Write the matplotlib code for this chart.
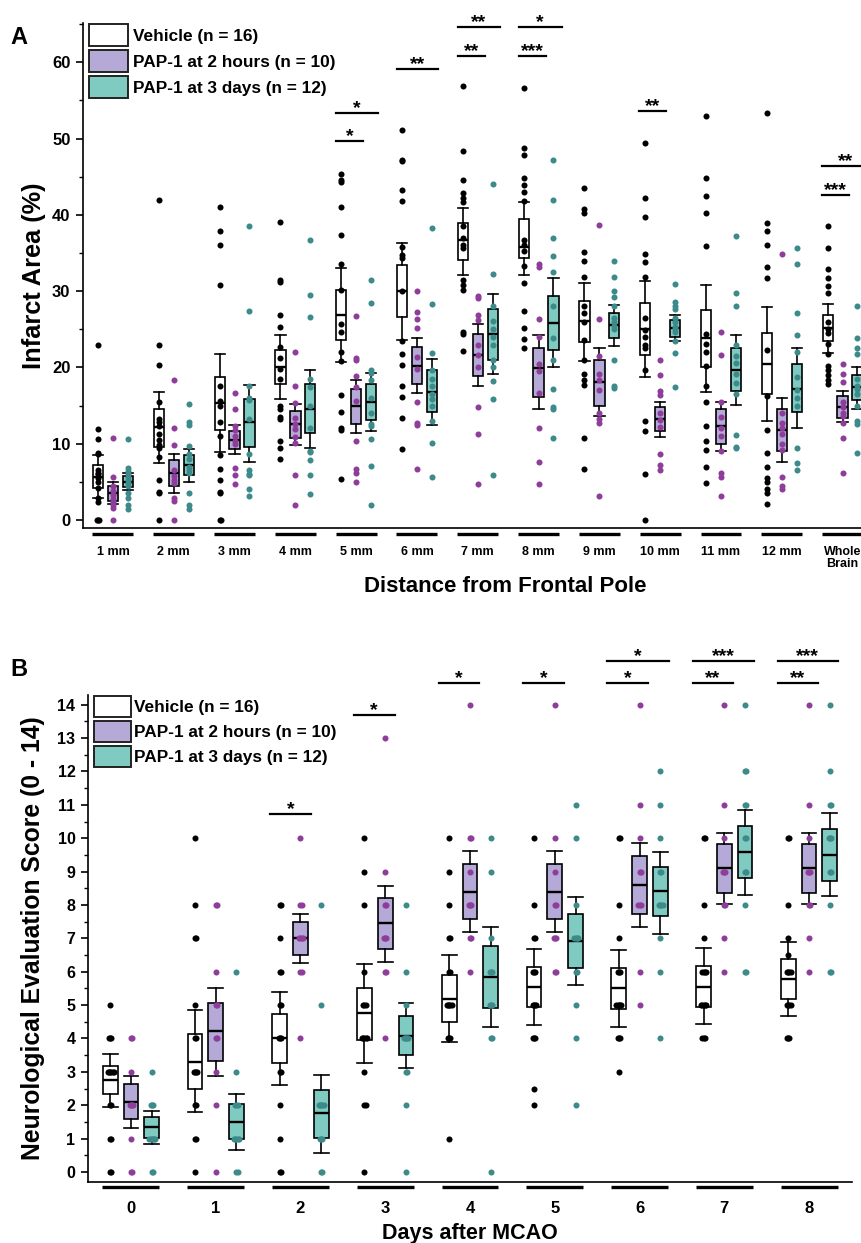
import matplotlib
matplotlib.use("Agg")
import matplotlib.pyplot as plt
from matplotlib.patches import Rectangle
from matplotlib.ticker import MultipleLocator

plt.rcParams['font.family'] = ['Liberation Sans', 'DejaVu Sans']
plt.rcParams['font.weight'] = 'bold'

W, H = 862, 1243

def fx(x):
    return x / W

def fy(y):
    return 1 - y / H

VEH_FACE = 'white'
PUR_FACE = '#b5a9d8'
TEA_FACE = '#7fcbc1'
VEH_DOT = 'black'
PUR_DOT = '#8e3d9a'
TEA_DOT = '#3c8a8a'

legend_labels = ['Vehicle (n = 16)', 'PAP-1 at 2 hours (n = 10)', 'PAP-1 at 3 days (n = 12)']

# ---------------- panel A : infarct area per slice ----------------
a_groups = ['1 mm', '2 mm', '3 mm', '4 mm', '5 mm', '6 mm', '7 mm', '8 mm',
            '9 mm', '10 mm', '11 mm', '12 mm', 'Whole\nBrain']

# (whisker low, q1, median, q3, whisker high)
a_veh_box = [(2.9, 4.15, 5.7, 7.2, 8.5), (7.5, 9.6, 12.2, 14.6, 16.8), (8.9, 11.8, 15.3, 18.8, 21.7),
             (15.9, 17.8, 20.0, 22.3, 24.2), (20.7, 23.6, 26.9, 30.1, 33.0), (23.6, 26.6, 30.0, 33.4, 36.3),
             (32.1, 34.1, 36.7, 38.95, 40.9), (32.1, 34.3, 35.8, 39.4, 41.7), (20.9, 23.3, 26.1, 28.7, 31.1),
             (18.8, 21.6, 25.0, 28.4, 31.3), (16.8, 20.0, 23.8, 27.5, 30.8), (13.0, 16.5, 20.4, 24.5, 27.9),
             (21.9, 23.4, 25.1, 26.9, 28.3)]
a_pur_box = [(2.1, 2.5, 3.6, 4.5, 5.0), (3.6, 4.4, 6.2, 7.9, 8.7), (8.7, 9.3, 10.5, 11.6, 12.4),
             (9.8, 10.7, 12.6, 14.3, 15.2), (11.4, 12.6, 14.9, 17.2, 18.4), (16.6, 17.8, 20.2, 22.7, 23.9),
             (17.6, 18.9, 21.6, 24.4, 25.7), (14.6, 16.1, 19.9, 22.6, 24.2), (13.6, 15.0, 18.1, 21.0, 22.5),
             (10.9, 11.7, 13.3, 14.8, 15.5), (9.0, 10.0, 12.3, 14.5, 15.5), (7.6, 9.0, 11.8, 14.6, 16.0),
             (12.8, 13.4, 14.8, 16.2, 16.9)]
a_tea_box = [(3.9, 4.3, 5.0, 5.8, 6.1), (5.0, 5.9, 7.2, 8.5, 9.3), (7.6, 9.6, 12.8, 15.8, 17.7),
             (9.4, 11.4, 14.6, 17.8, 19.7), (11.6, 13.1, 15.4, 17.8, 19.3), (12.5, 14.1, 16.8, 19.6, 21.1),
             (19.1, 21.0, 24.4, 27.6, 29.6), (20.1, 22.3, 25.8, 29.4, 31.7), (22.8, 23.8, 25.5, 27.1, 28.2),
             (23.4, 24.0, 25.2, 26.2, 26.9), (15.1, 16.9, 19.7, 22.5, 24.3), (12.1, 14.1, 17.2, 20.4, 22.5),
             (14.6, 15.7, 17.4, 19.0, 20.1)]

a_veh_pts = [
    [23.0, 11.9, 10.6, 8.8, 8.6, 6.5, 6.2, 6.0, 5.5, 5.0, 4.2, 2.9, 2.3, 0, 0, 0],
    [41.9, 23.0, 20.3, 15.4, 13.2, 12.8, 12.3, 11.3, 10.5, 9.8, 9.4, 8.3, 5.3, 3.7, 3.5, 0],
    [41.0, 37.9, 36.0, 30.8, 17.6, 15.6, 15.0, 12.8, 11.0, 8.5, 6.7, 5.3, 3.7, 3.5, 0, 0],
    [39.0, 31.5, 31.2, 26.9, 25.3, 22.7, 21.2, 19.8, 18.5, 14.9, 14.5, 13.5, 13.2, 10.4, 9.5, 8.0],
    [45.3, 44.6, 44.3, 41.0, 37.3, 33.6, 30.2, 25.7, 24.6, 22.0, 20.8, 16.4, 14.1, 12.0, 11.8, 5.4],
    [51.1, 47.2, 47.0, 43.2, 41.8, 35.8, 34.7, 34.3, 30.0, 23.4, 21.7, 20.3, 17.5, 16.1, 13.4, 9.3],
    [56.9, 48.3, 44.6, 42.9, 42.2, 41.7, 38.5, 37.0, 36.1, 35.6, 31.4, 30.8, 30.1, 24.7, 24.4, 22.1],
    [56.6, 48.7, 47.9, 44.8, 43.9, 43.0, 41.8, 36.7, 36.0, 35.3, 33.3, 31.1, 27.4, 25.2, 23.7, 22.6],
    [43.5, 40.8, 40.3, 35.1, 33.9, 31.9, 28.0, 27.1, 26.0, 23.6, 21.0, 19.2, 18.3, 17.7, 10.7, 6.7],
    [49.4, 42.2, 39.7, 34.9, 33.8, 31.8, 26.5, 24.9, 24.0, 22.9, 22.5, 19.6, 13.0, 11.6, 6.0, 0],
    [53.0, 44.8, 42.4, 40.3, 35.9, 24.4, 23.1, 22.0, 20.2, 17.5, 15.5, 12.3, 10.3, 9.2, 7.0, 4.9],
    [53.4, 38.9, 37.9, 36.1, 33.1, 31.7, 22.3, 16.2, 11.8, 8.8, 6.9, 5.5, 5.0, 4.1, 3.5, 2.1],
    [38.5, 35.7, 32.9, 31.7, 30.7, 29.8, 26.0, 25.0, 24.5, 23.1, 21.7, 20.2, 19.7, 19.0, 18.3, 17.8],
]
a_pur_pts = [
    [10.7, 5.7, 4.5, 3.8, 3.3, 2.8, 2.4, 1.9, 1.6, 0],
    [18.4, 12.1, 9.8, 6.5, 5.8, 5.3, 4.8, 2.9, 2.5, 0],
    [16.7, 14.6, 12.3, 11.8, 11.0, 10.3, 9.9, 6.8, 5.9, 4.7],
    [22.0, 17.6, 15.3, 13.4, 12.6, 11.9, 10.9, 10.1, 5.9, 1.9],
    [26.7, 21.2, 21.0, 18.9, 17.4, 15.6, 10.4, 6.7, 6.1, 5.0],
    [30.0, 27.2, 26.4, 25.2, 21.3, 19.8, 15.5, 12.7, 12.4, 6.7],
    [29.3, 29.1, 26.9, 26.2, 23.0, 21.6, 20.0, 14.8, 11.3, 4.7],
    [33.6, 33.2, 26.3, 24.0, 20.5, 19.5, 16.6, 12.0, 7.6, 4.7],
    [38.7, 26.3, 21.5, 19.2, 18.4, 17.0, 14.0, 13.2, 12.7, 3.1],
    [21.0, 19.0, 16.9, 16.4, 14.0, 13.1, 12.2, 8.6, 7.2, 6.5],
    [24.6, 21.6, 15.4, 13.5, 12.0, 11.0, 9.0, 6.1, 5.7, 3.1],
    [34.8, 14.0, 12.7, 12.0, 11.3, 10.0, 9.2, 5.7, 4.4, 4.0],
    [20.5, 19.1, 18.1, 15.5, 14.8, 14.0, 13.6, 12.7, 10.7, 6.2],
]
a_tea_pts = [
    [10.6, 6.8, 6.4, 6.0, 5.6, 5.2, 4.8, 4.4, 3.6, 2.9, 2.0, 1.4],
    [15.2, 12.8, 12.4, 9.7, 8.6, 8.0, 7.0, 6.5, 6.2, 3.6, 2.0, 1.5],
    [38.5, 27.4, 17.6, 16.0, 15.7, 13.3, 8.7, 6.5, 6.0, 5.9, 4.1, 3.1],
    [36.7, 29.5, 26.6, 18.5, 17.4, 15.0, 12.0, 9.0, 8.9, 7.9, 5.9, 3.4],
    [31.5, 28.4, 19.7, 19.3, 18.3, 16.0, 14.0, 12.6, 12.3, 10.6, 7.1, 1.9],
    [38.3, 28.3, 21.9, 19.7, 18.5, 17.5, 16.5, 15.9, 15.0, 13.0, 10.1, 5.6],
    [44.0, 32.2, 28.0, 26.1, 25.0, 24.0, 23.0, 21.0, 20.0, 18.2, 15.8, 5.9],
    [47.2, 41.9, 36.9, 34.6, 32.5, 28.0, 23.8, 21.0, 17.2, 14.8, 14.5, 10.7],
    [33.9, 31.8, 30.0, 29.2, 28.0, 26.5, 26.0, 25.4, 25.0, 21.0, 17.6, 17.3],
    [30.9, 28.6, 28.0, 27.6, 26.5, 26.0, 25.3, 25.0, 24.6, 23.4, 21.9, 17.4],
    [37.2, 29.8, 28.0, 23.0, 21.5, 20.6, 19.2, 18.0, 16.5, 11.1, 9.6, 9.5],
    [35.7, 33.5, 27.1, 24.2, 22.0, 18.7, 17.0, 16.0, 15.0, 9.4, 7.5, 6.6],
    [28.0, 23.8, 22.5, 21.7, 18.5, 17.5, 17.2, 16.5, 15.0, 13.0, 12.6, 8.8],
]

# (group position, bar height, left offset, right offset, stars)
a_sig = [(5, 53.3, -0.33, 0.36, '*'), (5, 49.7, -0.33, 0.12, '*'),
         (6, 59.1, -0.33, 0.35, '**'),
         (7, 64.6, -0.33, 0.36, '**'), (7, 60.8, -0.33, 0.12, '**'),
         (8, 64.6, -0.33, 0.38, '*'), (8, 60.8, -0.33, 0.13, '***'),
         (10, 53.6, -0.35, 0.10, '**'),
         (13, 46.4, -0.34, 0.45, '**'), (13, 42.6, -0.34, 0.11, '***')]

# ---------------- panel B : neurological score per day ----------------
b_days = ['0', '1', '2', '3', '4', '5', '6', '7', '8']

b_veh_box = [(1.96, 2.33, 2.76, 3.18, 3.54), (1.79, 2.49, 3.31, 4.13, 4.84), (2.61, 3.26, 4.0, 4.74, 5.40),
             (3.28, 3.96, 4.76, 5.52, 6.22), (3.88, 4.48, 5.18, 5.90, 6.50), (4.39, 4.93, 5.53, 6.13, 6.67),
             (4.34, 4.88, 5.5, 6.10, 6.65), (4.43, 4.94, 5.55, 6.17, 6.70), (4.66, 5.17, 5.77, 6.37, 6.90)]
b_pur_box = [(1.31, 1.58, 2.09, 2.63, 2.89), (2.89, 3.33, 4.21, 5.07, 5.50), (6.27, 6.5, 7.0, 7.5, 7.73),
             (6.3, 6.67, 7.45, 8.2, 8.58), (7.18, 7.58, 8.40, 9.22, 9.62), (7.18, 7.58, 8.40, 9.22, 9.62),
             (7.33, 7.73, 8.6, 9.47, 9.87), (8.02, 8.37, 9.1, 9.82, 10.17), (8.02, 8.37, 9.1, 9.82, 10.17)]
b_tea_box = [(0.83, 1.01, 1.34, 1.64, 1.84), (0.66, 0.98, 1.51, 2.03, 2.34), (0.58, 1.03, 1.76, 2.46, 2.91),
             (3.11, 3.49, 4.06, 4.68, 5.05), (4.33, 4.90, 5.83, 6.77, 7.35), (5.6, 6.10, 6.92, 7.73, 8.23),
             (7.13, 7.68, 8.42, 9.15, 9.58), (8.31, 8.8, 9.58, 10.37, 10.85), (8.27, 8.73, 9.5, 10.27, 10.75)]

b_veh_pts = [
    [5, 4, 4, 4, 3, 3, 3, 3, 3, 3, 2, 2, 1, 1, 0, 0],
    [10, 8, 7, 7, 5, 4, 4, 3, 3, 3, 3, 2, 2, 1, 1, 0],
    [8, 8, 7, 6, 6, 5, 5, 4, 4, 4, 3, 3, 2, 1, 0, 0],
    [10, 9, 8, 6, 5, 5, 5, 4, 4, 4, 4, 4, 3, 2, 2, 0],
    [10, 9, 8, 7, 7, 6, 6, 5, 5, 5, 5, 5, 4, 4, 4, 1],
    [10, 8, 7, 7, 6, 6, 6, 5, 5, 5, 5, 4, 4, 4, 2.5, 2],
    [10, 10, 8, 7, 6, 6, 6, 5, 5, 5, 5, 5, 4, 4, 4, 3],
    [10, 10, 8, 7, 6, 6, 6, 6, 5, 5, 5, 5, 5, 4, 4, 4],
    [10, 10, 8, 7, 6.5, 6, 6, 6, 6, 5, 5, 5, 5, 4, 4, 4],
]
b_pur_pts = [
    [4, 4, 3, 2, 2, 2, 2, 1, 0, 0],
    [8, 8, 6, 5, 5, 4, 4, 3, 2, 0],
    [10, 8, 8, 7, 7, 7, 7, 6, 6, 4],
    [13, 9, 8, 8, 7, 7, 7, 6, 6, 4],
    [14, 10, 10, 9, 8, 8, 8, 7, 7, 6],
    [14, 10, 9, 8, 8, 7, 7, 7, 6, 6],
    [14, 11, 10, 9, 9, 8, 8, 8, 6, 5],
    [14, 11, 10, 9, 9, 9, 8, 8, 7, 6],
    [14, 11, 10, 9, 9, 9, 8, 8, 7, 6],
]
b_tea_pts = [
    [3, 2, 2, 2, 1, 1, 1, 1, 1, 1, 0, 0],
    [6, 3, 2, 2, 2, 1, 1, 1, 1, 1, 0, 0],
    [8, 5, 2, 2, 2, 2, 2, 1, 1, 1, 0, 0],
    [8, 6, 5, 4, 4, 4, 4, 4, 3, 3, 2, 0],
    [10, 9, 7, 6, 6, 6, 5, 5, 5, 4, 4, 0],
    [11, 10, 8, 7, 7, 7, 7, 6, 6, 5, 4, 2],
    [12, 11, 10, 9, 9, 8, 8, 8, 8, 7, 6, 4],
    [14, 12, 12, 11, 11, 10, 10, 9, 9, 8, 6, 6],
    [14, 12, 11, 11, 10, 10, 10, 9, 9, 8, 6, 6],
]

b_sig = [(2, 10.73, -0.36, 0.12, '*'), (3, 13.7, -0.37, 0.11, '*'),
         (4, 14.65, -0.37, 0.11, '*'), (5, 14.65, -0.37, 0.11, '*'),
         (6, 15.3, -0.38, 0.35, '*'), (6, 14.65, -0.38, 0.10, '*'),
         (7, 15.3, -0.37, 0.35, '***'), (7, 14.65, -0.37, 0.10, '**'),
         (8, 15.3, -0.37, 0.34, '***'), (8, 14.65, -0.37, 0.11, '**')]


def draw_series(ax, boxes, pts, pos, width, face, dot, step):
    stats = [dict(whislo=b[0], q1=b[1], med=b[2], q3=b[3], whishi=b[4], fliers=[]) for b in boxes]
    ax.bxp(stats, positions=pos, widths=width, capwidths=width, patch_artist=True,
           showfliers=False, manage_ticks=False, zorder=2,
           boxprops=dict(facecolor=face, edgecolor='black', linewidth=1.2),
           medianprops=dict(color='black', linewidth=1.7),
           whiskerprops=dict(color='black', linewidth=1.2),
           capprops=dict(color='black', linewidth=1.2))
    # points sit on the box, repeated values are nudged sideways a little
    for p, vals in zip(pos, pts):
        seen = {}
        xs = []
        for v in vals:
            k = seen.get(v, 0)
            seen[v] = k + 1
            xs.append(p + ((k + 1) // 2) * step * (1 if k % 2 else -1))
        ax.scatter(xs, vals, s=19, color=dot, linewidths=0, zorder=3)


def draw_sig(ax, sig):
    for g, y, x0, x1, lab in sig:
        ax.plot([g + x0, g + x1], [y, y], color='black', lw=1.6, clip_on=False)
        ax.text(g + (x0 + x1) / 2, y, lab, ha='center', va='baseline', fontsize=14,
                fontweight='bold', clip_on=False)


def style_axis(ax, bar_y, half, pos):
    for s in ['top', 'right']:
        ax.spines[s].set_visible(False)
    ax.spines['left'].set_linewidth(1.2)
    ax.spines['bottom'].set_linewidth(1.2)
    ax.tick_params(axis='y', which='major', length=5, width=1.2, direction='out', pad=4)
    ax.tick_params(axis='y', which='minor', length=3, width=1.0, direction='out')
    ax.tick_params(axis='x', length=0)
    tr = ax.get_xaxis_transform()
    for p in pos:
        ax.plot([p - half, p + half], [bar_y, bar_y], color='black', lw=2.4,
                transform=tr, clip_on=False, solid_capstyle='butt')


def add_legend(fig, left, right, tops, height, text_x):
    for top, face, lab in zip(tops, (VEH_FACE, PUR_FACE, TEA_FACE), legend_labels):
        fig.patches.append(Rectangle((fx(left), fy(top + height)), (right - left) / W, height / H,
                                     facecolor=face, edgecolor='#222222', linewidth=1.4,
                                     transform=fig.transFigure, figure=fig))
        fig.text(fx(text_x), fy(top + height / 2 + 1), lab, ha='left', va='center',
                 fontsize=12.4, fontweight='bold')


fig = plt.figure(figsize=(W / 100, H / 100), dpi=100)

# ---------- A ----------
axA = fig.add_axes([fx(83), fy(528), (873 - 83) / W, (528 - 23) / H])
a_pos = list(range(1, len(a_groups) + 1))
d = 0.245
draw_series(axA, a_veh_box, a_veh_pts, [p - d for p in a_pos], 0.17, VEH_FACE, VEH_DOT, 0.015)
draw_series(axA, a_pur_box, a_pur_pts, a_pos, 0.17, PUR_FACE, PUR_DOT, 0.015)
draw_series(axA, a_tea_box, a_tea_pts, [p + d for p in a_pos], 0.17, TEA_FACE, TEA_DOT, 0.015)
axA.set_xlim(0.507, 13.5)
axA.set_ylim(-1.05, 65.14)
axA.yaxis.set_major_locator(MultipleLocator(10))
axA.yaxis.set_minor_locator(MultipleLocator(5))
style_axis(axA, -6 / 505, 0.337, a_pos)
axA.set_xticks(a_pos)
axA.set_xticklabels(a_groups, fontsize=9, fontweight='bold', linespacing=1.0)
axA.tick_params(axis='x', pad=13)
for t in axA.get_yticklabels():
    t.set_fontsize(12)
    t.set_fontweight('bold')
draw_sig(axA, a_sig)
add_legend(fig, 89, 128, [24, 50, 76], 22, 133)
fig.text(fx(34), fy(276), 'Infarct Area (%)', rotation=90, ha='center', va='center',
         fontsize=18.3, fontweight='bold')
fig.text(fx(505), fy(586), 'Distance from Frontal Pole', ha='center', va='center',
         fontsize=16, fontweight='bold')
fig.text(fx(10), fy(37), 'A', ha='left', va='center', fontsize=17, fontweight='bold')

# ---------- B ----------
axB = fig.add_axes([fx(88), fy(1182), (852 - 88) / W, (1182 - 695) / H])
b_pos = list(range(len(b_days)))
draw_series(axB, b_veh_box, b_veh_pts, [p - d for p in b_pos], 0.176, VEH_FACE, VEH_DOT, 0.014)
draw_series(axB, b_pur_box, b_pur_pts, b_pos, 0.176, PUR_FACE, PUR_DOT, 0.014)
draw_series(axB, b_tea_box, b_tea_pts, [p + d for p in b_pos], 0.176, TEA_FACE, TEA_DOT, 0.014)
axB.set_xlim(-0.507, 8.507)
axB.set_ylim(-0.30, 14.29)
axB.yaxis.set_major_locator(MultipleLocator(1))
axB.yaxis.set_minor_locator(MultipleLocator(0.5))
style_axis(axB, -5 / 487, 0.336, b_pos)
axB.set_xticks(b_pos)
axB.set_xticklabels(b_days, fontsize=12, fontweight='bold')
axB.tick_params(axis='x', pad=14)
for t in axB.get_yticklabels():
    t.set_fontsize(11.5)
    t.set_fontweight('bold')
draw_sig(axB, b_sig)
add_legend(fig, 94, 131, [696, 721, 746], 21, 134)
fig.text(fx(33), fy(938), 'Neurological Evaluation Score (0 - 14)', rotation=90, ha='center',
         va='center', fontsize=17.8, fontweight='bold')
fig.text(fx(470), fy(1233), 'Days after MCAO', ha='center', va='center',
         fontsize=15.5, fontweight='bold')
fig.text(fx(10), fy(670), 'B', ha='left', va='center', fontsize=17, fontweight='bold')

fig.savefig('out.png', dpi=100)
